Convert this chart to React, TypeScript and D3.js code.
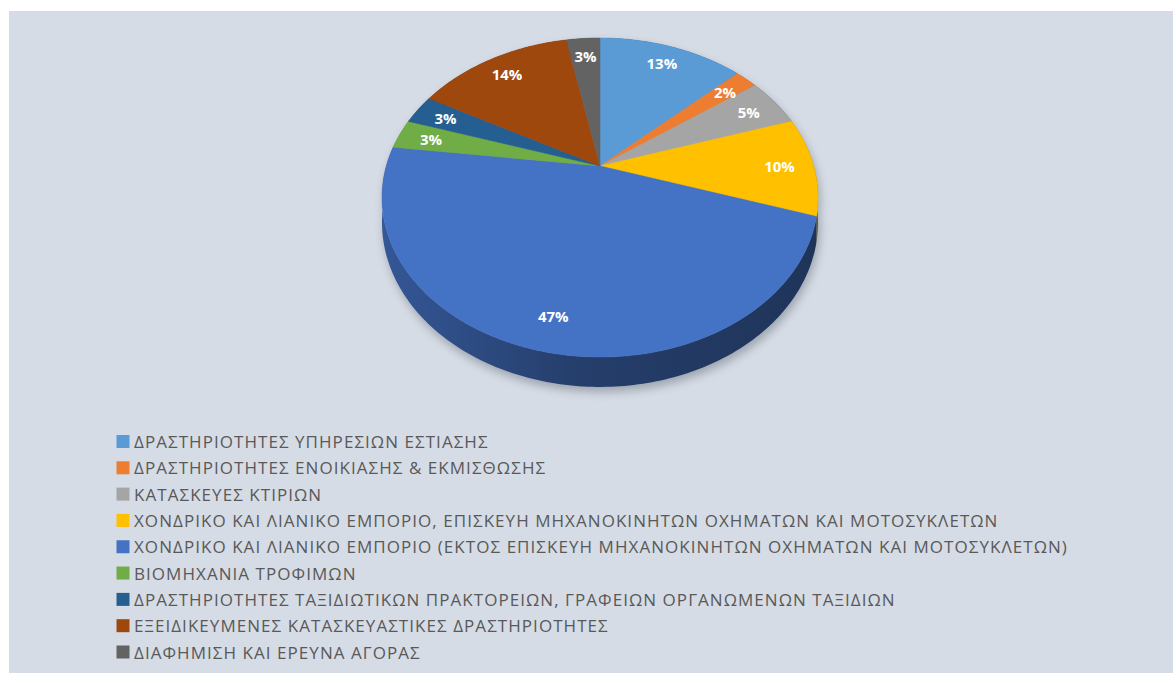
import React from 'react';
import * as d3 from 'd3';

const categories = [
  'ΔΡΑΣΤΗΡΙΟΤΗΤΕΣ ΥΠΗΡΕΣΙΩΝ ΕΣΤΙΑΣΗΣ',
  'ΔΡΑΣΤΗΡΙΟΤΗΤΕΣ ΕΝΟΙΚΙΑΣΗΣ & ΕΚΜΙΣΘΩΣΗΣ',
  'ΚΑΤΑΣΚΕΥΕΣ ΚΤΙΡΙΩΝ',
  'ΧΟΝΔΡΙΚΟ ΚΑΙ ΛΙΑΝΙΚΟ ΕΜΠΟΡΙΟ, ΕΠΙΣΚΕΥΗ ΜΗΧΑΝΟΚΙΝΗΤΩΝ ΟΧΗΜΑΤΩΝ ΚΑΙ ΜΟΤΟΣΥΚΛΕΤΩΝ',
  'ΧΟΝΔΡΙΚΟ ΚΑΙ ΛΙΑΝΙΚΟ ΕΜΠΟΡΙΟ (ΕΚΤΟΣ ΕΠΙΣΚΕΥΗ ΜΗΧΑΝΟΚΙΝΗΤΩΝ ΟΧΗΜΑΤΩΝ ΚΑΙ ΜΟΤΟΣΥΚΛΕΤΩΝ)',
  'ΒΙΟΜΗΧΑΝΙΑ ΤΡΟΦΙΜΩΝ',
  'ΔΡΑΣΤΗΡΙΟΤΗΤΕΣ ΤΑΞΙΔΙΩΤΙΚΩΝ ΠΡΑΚΤΟΡΕΙΩΝ, ΓΡΑΦΕΙΩΝ ΟΡΓΑΝΩΜΕΝΩΝ ΤΑΞΙΔΙΩΝ',
  'ΕΞΕΙΔΙΚΕΥΜΕΝΕΣ ΚΑΤΑΣΚΕΥΑΣΤΙΚΕΣ ΔΡΑΣΤΗΡΙΟΤΗΤΕΣ',
  'ΔΙΑΦΗΜΙΣΗ ΚΑΙ ΕΡΕΥΝΑ ΑΓΟΡΑΣ',
];
const values = [13, 2, 5, 10, 47, 3, 3, 14, 3];
const colors = ['#5B9BD5', '#ED7D31', '#A5A5A5', '#FFC000', '#4472C4', '#70AD47', '#255E91', '#9E480E', '#636363'];

// projection of a tilted disc with perspective
const CX = 600, CY = 166, A = 213.7, B = 153.3, K = 0.1975, H = 24;
function proj(theta: number, f: number, depth = 0): [number, number] {
  const u = f * Math.sin(theta);
  const v = -f * Math.cos(theta);
  const w = 1 - K * v;
  return [CX + (A * u) / w, CY + (B * v + depth) / w];
}
function arcPts(a0: number, a1: number, depth = 0) {
  const n = Math.max(2, Math.ceil(((a1 - a0) / (Math.PI * 2)) * 360));
  const pts: [number, number][] = [];
  for (let i = 0; i <= n; i++) pts.push(proj(a0 + ((a1 - a0) * i) / n, 1, depth));
  return pts;
}
const line = d3.line();

export default function App() {
  const pie = d3.pie<number>().sort(null).startAngle(0).endAngle(Math.PI * 2);
  const arcs = pie(values);
  const order = arcs
    .map((a, i) => ({ a, i, v: -Math.cos((a.startAngle + a.endAngle) / 2) }))
    .sort((p, q) => p.v - q.v);
  const full = arcPts(0, Math.PI * 2);
  const fullB = arcPts(0, Math.PI * 2, H);
  const legendY = d3.scalePoint<number>().domain(d3.range(categories.length)).range([441.5, 652]);

  return (
    <svg width={1173} height={673} style={{ position: 'absolute', left: 0, top: 0 }}>
      <defs>
        <filter id="sh" x="-20%" y="-20%" width="140%" height="140%">
          <feGaussianBlur stdDeviation="5" />
        </filter>
        {arcs.map((a, i) => {
          const c = d3.color(colors[i])!;
          return (
            <linearGradient key={i} id={`side${i}`} gradientUnits="userSpaceOnUse" x1={382} y1={0} x2={818} y2={0}>
              <stop offset="0%" stopColor={c.darker(0.75).formatHex()} />
              <stop offset="45%" stopColor={c.darker(1.7).formatHex()} />
              <stop offset="100%" stopColor={c.darker(2.2).formatHex()} />
            </linearGradient>
          );
        })}
      </defs>
      <rect x={9} y={11} width={1164} height={662} fill="#d6dce5" />
      {/* shadow */}
      <g filter="url(#sh)" opacity={0.45} transform="translate(2,5)">
        <path d={line(full.concat(fullB)) + 'Z'} fill="#556070" />
      </g>
      {/* sides */}
      {order.map(({ a, i }) => {
        const top = arcPts(a.startAngle, a.endAngle);
        const bot = arcPts(a.startAngle, a.endAngle, H).reverse();
        return <path key={'s' + i} d={line(top.concat(bot)) + 'Z'} fill={`url(#side${i})`} />;
      })}
      {/* top faces */}
      {arcs.map((a, i) => {
        const pts = [proj(0, 0) as [number, number]].concat(arcPts(a.startAngle, a.endAngle));
        return <path key={'t' + i} d={line(pts) + 'Z'} fill={colors[i]} stroke={colors[i]} strokeWidth={0.5} />;
      })}
      {/* labels */}
      {arcs.map((a, i) => {
        const [x, y] = proj((a.startAngle + a.endAngle) / 2, 0.84);
        return (
          <text key={'l' + i} x={x} y={y} textAnchor="middle" dominantBaseline="central" fill="#ffffff"
            fontFamily="'Open Sans', sans-serif" fontWeight={700} fontSize={15}>
            {values[i]}%
          </text>
        );
      })}
      {/* legend */}
      {categories.map((c, i) => (
        <g key={'g' + i} transform={`translate(0,${legendY(i)})`}>
          <rect x={116.5} y={-6.5} width={13} height={13} fill={colors[i]} />
          <text x={134} y={0} dominantBaseline="central" fill="#595959" fontFamily="'Open Sans', sans-serif"
            fontSize={17} letterSpacing={1.05}>
            {c}
          </text>
        </g>
      ))}
    </svg>
  );
}
